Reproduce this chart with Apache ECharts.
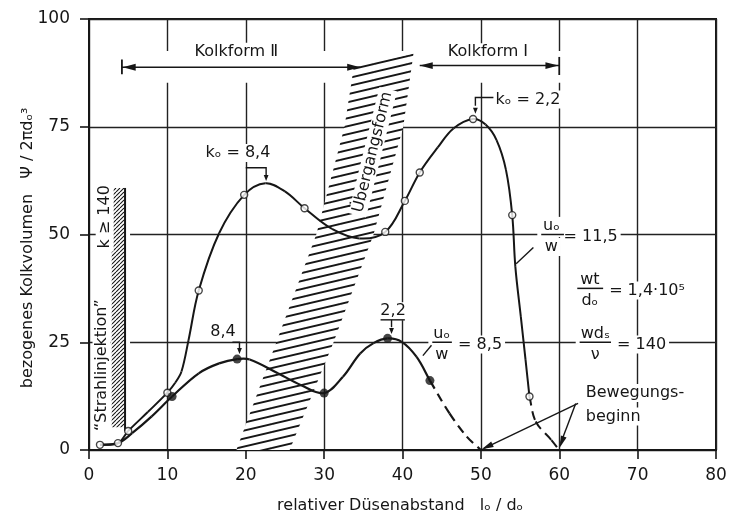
<!DOCTYPE html>
<html>
<head>
<meta charset="utf-8">
<script src="https://cdn.jsdelivr.net/npm/echarts@6/dist/echarts.min.js"></script>
<style>
  html, body { margin: 0; padding: 0; background: #fff; }
  #chart { width: 740px; height: 513px; }
</style>
</head>
<body>
<div id="chart"></div>
<script>
// u0/w = 11.5  (open circles)
const upperMarks = [[1.4, 1.2], [3.7, 1.6], [5.0, 4.4], [10.0, 13.3], [14.0, 37.0], [19.8, 59.2], [27.5, 56.1],
  [37.8, 50.6], [40.3, 57.8], [42.2, 64.4], [49.0, 76.8], [54.0, 54.5], [56.2, 12.4]];
const upperLine = [[1.4, 1.2], [3.7, 1.6], [5.0, 4.4], [7.5, 8.8], [10.0, 13.3], [11.0, 15.6], [11.8, 18.2],
  [12.7, 25.5], [14.0, 37.0], [16.6, 50.3], [19.8, 59.2], [22.5, 61.9], [25.0, 60.0], [27.5, 56.1],
  [31.0, 51.3], [34.5, 49.1], [37.8, 50.6], [40.3, 57.8], [42.2, 64.4], [44.5, 70.2], [46.5, 74.6],
  [49.0, 76.8], [50.6, 75.5], [52.0, 71.9], [53.2, 65.0], [54.0, 54.5], [54.4, 42.5], [55.1, 30.9],
  [55.7, 20.9], [56.2, 12.4]];
const upperTail = [[56.2, 12.4], [57.0, 6.6], [59.0, 2.3], [60.0, 0]];

// u0/w = 8.5  (filled dots)
const lowerMarks = [[10.6, 12.4], [18.9, 21.1], [30.0, 13.2], [38.1, 25.9], [43.5, 16.1]];
const lowerLine = [[1.4, 1.2], [3.7, 1.6], [5.5, 3.9], [8.0, 7.8], [10.6, 12.4], [14.0, 17.8], [16.6, 20.1],
  [18.9, 21.1], [20.5, 21.0], [24.1, 17.8], [27.0, 15.1], [30.0, 13.2], [32.4, 17.0], [34.6, 22.4],
  [36.3, 24.8], [38.1, 25.9], [39.9, 25.1], [41.8, 21.6], [43.5, 16.1]];
const lowerTail = [[43.5, 16.1], [46.0, 8.5], [48.2, 3.1], [50.0, 0]];

// Übergangsform band edges and the k >= 140 strip
const bandLeft = [[18.8, 0], [23.9, 25], [29.0, 50], [32.6, 75], [33.8, 89]];
const bandRight = [[25.6, 0], [31.2, 25], [36.3, 50], [40.1, 75], [41.4, 92]];
const jetStrip = [[2.9, 5.3], [4.6, 60.8]];

// Kolkform ranges
const kolkform2 = [4.2, 34.6];
const kolkform1 = [42.2, 60];

const INK = '#161616';
const FONT = '"DejaVu Sans", sans-serif';

const chart = echarts.init(document.getElementById('chart'));

// smooth curve through the points, drawn as bezier pieces in pixel space
function curve(points, width, dash) {
  return {
    type: 'custom', data: [0], silent: true, z: 4, clip: false,
    renderItem: function (params, api) {
      const p = points.map(function (q) { return api.coord(q); });
      const k = 0.36;
      const dist = function (a, b) { return Math.hypot(a[0] - b[0], a[1] - b[1]); };
      const kids = [];
      for (let i = 0; i < p.length - 1; i++) {
        const p0 = p[i - 1] || p[i], p1 = p[i], p2 = p[i + 1], p3 = p[i + 2] || p[i + 1];
        const d01 = dist(p0, p1), d12 = dist(p1, p2), d23 = dist(p2, p3);
        const r1 = d12 / ((d01 + d12) || 1), r2 = d12 / ((d12 + d23) || 1);
        kids.push({
          type: 'bezierCurve',
          shape: {
            x1: p1[0], y1: p1[1], x2: p2[0], y2: p2[1],
            cpx1: p1[0] + (p2[0] - p0[0]) * k * r1, cpy1: p1[1] + (p2[1] - p0[1]) * k * r1,
            cpx2: p2[0] - (p3[0] - p1[0]) * k * r2, cpy2: p2[1] - (p3[1] - p1[1]) * k * r2
          },
          style: { stroke: INK, lineWidth: width, fill: null, lineDash: dash || null }
        });
      }
      return { type: 'group', children: kids };
    }
  };
}

const axisCommon = {
  type: 'value',
  axisLine: { show: true, onZero: false, lineStyle: { color: INK, width: 2 } },
  axisTick: { show: true, inside: false, length: 9, lineStyle: { color: INK, width: 1.6 } },
  splitLine: { show: true, lineStyle: { color: '#222', width: 1.4 } },
  axisLabel: { color: INK, fontSize: 17, fontFamily: FONT }
};

const option = {
  animation: false,
  backgroundColor: '#fff',
  grid: { left: 89, right: 24, top: 19, bottom: 63, show: true, borderColor: INK, borderWidth: 2 },
  xAxis: Object.assign({}, axisCommon, { min: 0, max: 80, interval: 10,
    axisLabel: Object.assign({}, axisCommon.axisLabel, { margin: 17 }) }),
  yAxis: Object.assign({}, axisCommon, { min: 0, max: 100, interval: 25,
    axisLabel: Object.assign({}, axisCommon.axisLabel, { margin: 19 }) }),
  series: [
    curve(upperLine, 2),
    curve(upperTail, 2, [9, 6]),
    curve(lowerLine, 2.2),
    curve(lowerTail, 2.2, [9, 6]),
    { type: 'scatter', data: upperMarks, symbol: 'circle', symbolSize: 7, silent: true, z: 6,
      itemStyle: { color: '#fff', borderColor: INK, borderWidth: 1.4 } },
    { type: 'scatter', data: lowerMarks, symbol: 'circle', symbolSize: 9, silent: true, z: 6,
      itemStyle: { color: INK } }
  ]
};
chart.setOption(option);

const px = (x, y) => chart.convertToPixel({ gridIndex: 0 }, [x, y]);

function pattern(w, h, draw) {
  const c = document.createElement('canvas');
  c.width = w; c.height = h;
  const g = c.getContext('2d');
  g.fillStyle = '#fff';
  g.fillRect(0, 0, w, h);
  g.strokeStyle = INK;
  draw(g, w, h);
  return { type: 'pattern', image: c, repeat: 'repeat' };
}

const bandHatch = pattern(34, 8, function (g, w, h) {
  g.lineWidth = 1.9;
  for (let k = -1; k <= 1; k++) {
    g.beginPath();
    g.moveTo(0, h + k * h);
    g.lineTo(w, k * h);
    g.stroke();
  }
});
const stripHatch = pattern(4, 4, function (g, w, h) {
  g.lineWidth = 1.1;
  for (let k = -1; k <= 1; k++) {
    g.beginPath();
    g.moveTo(k * w, h);
    g.lineTo(w + k * w, 0);
    g.stroke();
  }
});

function label(x, y, text, extra, size) {
  const p = px(x, y);
  return Object.assign({
    type: 'text', x: p[0], y: p[1], z: 20, silent: true,
    style: { text: text, font: (size || 16) + 'px ' + FONT, fill: INK, align: 'center',
      verticalAlign: 'middle', backgroundColor: '#fff', padding: [1, 3] }
  }, extra || {});
}
function line(pts, width, z) {
  return { type: 'polyline', z: z || 21, silent: true,
    shape: { points: pts.map(function (q) { return px(q[0], q[1]); }) },
    style: { stroke: INK, lineWidth: width || 1.5, fill: null } };
}
function head(tip, from, len, half, z) {
  const a = px(tip[0], tip[1]), b = px(from[0], from[1]);
  const dx = a[0] - b[0], dy = a[1] - b[1], d = Math.hypot(dx, dy);
  const ux = dx / d, uy = dy / d;
  const bx = a[0] - ux * len, by = a[1] - uy * len;
  return { type: 'polygon', z: z || 21, silent: true,
    shape: { points: [a, [bx - uy * half, by + ux * half], [bx + uy * half, by - ux * half]] },
    style: { fill: INK } };
}
function whiteBox(x0, y0, x1, y1, z) {
  const a = px(x0, y1), b = px(x1, y0);
  return { type: 'rect', z: z || 1, silent: true,
    shape: { x: a[0], y: a[1], width: b[0] - a[0], height: b[1] - a[1] }, style: { fill: '#fff' } };
}

const g = [];

// gaps in the grid around the range arrows
g.push(whiteBox(kolkform2[0], 85.2, kolkform2[1], 92.6));
g.push(whiteBox(39.6, 85.2, kolkform1[1] + 0.4, 92.6));

// transition band
const bandPts = bandLeft.concat(bandRight.slice().reverse()).map(function (q) { return px(q[0], q[1]); });
g.push({ type: 'polygon', z: 2, silent: true, shape: { points: bandPts }, style: { fill: bandHatch } });

// k >= 140 strip
const s0 = px(jetStrip[0][0], jetStrip[1][1]), s1 = px(jetStrip[1][0], jetStrip[0][1]);
g.push({ type: 'rect', z: 2, silent: true,
  shape: { x: s0[0] - 1, y: s0[1], width: s1[0] - s0[0] + 6, height: s1[1] - s0[1] }, style: { fill: '#fff' } });
g.push({ type: 'rect', z: 3, silent: true,
  shape: { x: s0[0], y: s0[1], width: s1[0] - s0[0], height: s1[1] - s0[1] }, style: { fill: stripHatch } });
g.push(line([[jetStrip[1][0], jetStrip[1][1]], [jetStrip[1][0], 4.4]], 2, 4));

// Kolkform arrows
const yA2 = 88.8, yA1 = 89.2;
g.push(line([[kolkform2[0], yA2], [kolkform2[1], yA2]], 1.5));
g.push(line([[kolkform2[0], 87.2], [kolkform2[0], 90.6]], 1.8));
g.push(head([kolkform2[0] + 0.1, yA2], [kolkform2[1], yA2], 13, 3.4));
g.push(head([kolkform2[1], yA2], [kolkform2[0], yA2], 13, 3.4));
g.push(line([[kolkform1[0], yA1], [kolkform1[1], yA1]], 1.5));
g.push(line([[kolkform1[1], 87.0], [kolkform1[1], 91.2]], 1.8));
g.push(head([kolkform1[0], yA1], [kolkform1[1], yA1], 13, 3.4));
g.push(head([kolkform1[1] - 0.1, yA1], [kolkform1[0], yA1], 13, 3.4));
g.push(label(18.8, 92.4, 'Kolkform Ⅱ', null, 16));
g.push(label(50.9, 92.3, 'Kolkform Ⅰ', null, 16));

// rotated labels
g.push(label(2.0, 54.1, 'k ≥ 140', { rotation: Math.PI / 2 }));
g.push(label(1.6, 19.7, '“Strahlinjektion”', { rotation: Math.PI / 2 }));
g.push(label(36.2, 69.1, 'Übergangsform', { rotation: 1.33 }));

// peak markers
g.push(label(19.0, 68.9, 'kₒ = 8,4'));
g.push(line([[20.0, 65.5], [22.6, 65.5], [22.6, 63.6]], 1.4));
g.push(head([22.6, 62.4], [22.6, 65.5], 6, 2.4));
g.push(label(56.0, 81.3, 'kₒ = 2,2'));
g.push(line([[51.6, 81.8], [49.3, 81.8], [49.3, 79.9]], 1.4));
g.push(head([49.3, 78.0], [49.3, 81.8], 6, 2.4));
g.push(label(17.1, 27.4, '8,4'));
g.push(line([[18.3, 25], [19.2, 25], [19.2, 23.6]], 1.4));
g.push(head([19.2, 22.3], [19.2, 25], 6, 2.4));
g.push(label(38.8, 32.2, '2,2'));
g.push(line([[37.2, 30.2], [40.3, 30.2]], 1.4));
g.push(line([[38.6, 30.2], [38.6, 28.5]], 1.4));
g.push(head([38.6, 26.9], [38.6, 30.2], 6, 2.4));

// parameter fractions
function fraction(x, yBar, top, bottom, rest, restX, x0, x1) {
  g.push(label(x, yBar + 2.0, top));
  g.push(label(x, yBar - 2.9, bottom));
  g.push(whiteBox(x0 - 0.5, yBar - 0.6, x1 + 0.5, yBar + 0.6, 19));
  g.push(line([[x0, yBar], [x1, yBar]], 1.5));
  g.push(label(restX, yBar - 0.5, rest));
}
fraction(59.0, 50, 'uₒ', 'w', '= 11,5', 64.0, 57.7, 60.6);
g.push(line([[56.7, 47.0], [54.5, 43.2]], 1.4));
fraction(63.9, 37.5, 'wt', 'dₒ', '= 1,4·10⁵', 71.2, 62.3, 65.6);
fraction(64.6, 25, 'wdₛ', 'ν', '= 140', 70.5, 62.6, 66.6);
fraction(45.0, 25, 'uₒ', 'w', '= 8,5', 49.9, 43.8, 46.3);
g.push(line([[43.7, 24.3], [42.6, 21.9]], 1.4));

// Bewegungsbeginn
g.push(label(63.0, 13.2, 'Bewegungs-', { style: { text: 'Bewegungs-', font: '16px ' + FONT, fill: INK,
  align: 'left', verticalAlign: 'middle', backgroundColor: '#fff', padding: [1, 3] } }));
g.push(label(63.0, 7.8, 'beginn', { style: { text: 'beginn', font: '16px ' + FONT, fill: INK,
  align: 'left', verticalAlign: 'middle', backgroundColor: '#fff', padding: [1, 3] } }));
g.push(line([[62.4, 10.8], [50.4, 0.4]], 1.4));
g.push(head([50.1, 0.15], [62.4, 10.8], 12, 3));
g.push(line([[62.1, 10.8], [60.2, 1.6]], 1.4));
g.push(head([60.05, 0.5], [62.1, 10.8], 12, 3));

// axis titles
g.push(label(-7.8, 46.9, 'bezogenes Kolkvolumen   Ψ / 2πdₒ³', { rotation: Math.PI / 2 }, 16));
g.push(label(39.7, -12.9, 'relativer Düsenabstand   lₒ / dₒ', null, 16));

chart.setOption({ graphic: { elements: g } });
</script>
</body>
</html>
